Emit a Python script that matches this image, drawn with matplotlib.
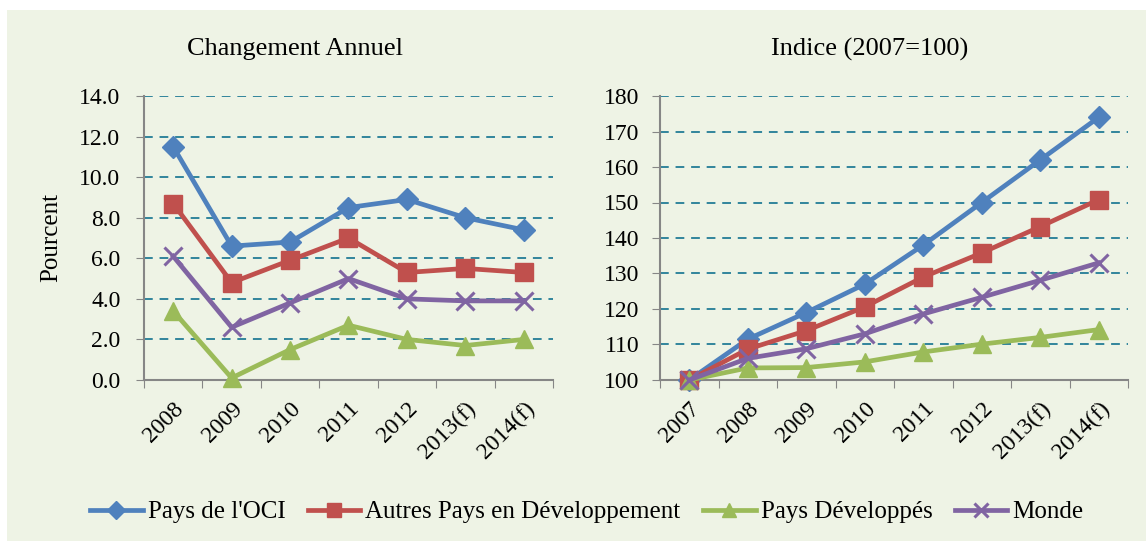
import numpy as np
import matplotlib.pyplot as plt
from matplotlib.patches import Rectangle

# données
annees_chg = ['2008', '2009', '2010', '2011', '2012', '2013(f)', '2014(f)']
oci_chg = [11.5, 6.6, 6.8, 8.5, 8.9, 8.0, 7.4]
autres_chg = [8.7, 4.8, 5.9, 7.0, 5.3, 5.5, 5.3]
dev_chg = [3.4, 0.1, 1.5, 2.7, 2.0, 1.7, 2.0]
monde_chg = [6.1, 2.6, 3.8, 5.0, 4.0, 3.9, 3.9]

annees_idx = ['2007', '2008', '2009', '2010', '2011', '2012', '2013(f)', '2014(f)']
oci_idx = [100, 111.5, 119, 127, 138, 150, 162, 174]
autres_idx = [100, 108.7, 113.9, 120.6, 129, 135.8, 143.2, 150.8]
dev_idx = [100, 103.4, 103.5, 105.1, 107.9, 110.1, 112, 114.2]
monde_idx = [100, 106.1, 108.8, 113, 118.6, 123.3, 128.1, 133]

noms = ["Pays de l'OCI", 'Autres Pays en Développement', 'Pays Développés', 'Monde']
couleurs = ['#4F81BD', '#C0504D', '#9BBB59', '#8064A2']
marqueurs = ['D', 's', '^', 'x']
tailles = [11, 12.5, 12.5, 12.5]

plt.rcParams['font.family'] = ['Liberation Serif', 'DejaVu Serif']

fig = plt.figure(figsize=(11.46, 5.41), dpi=100, facecolor='white')
fig.patches.append(Rectangle((7 / 1146, 0), 1, 1 - 10 / 541, transform=fig.transFigure,
                             facecolor='#EEF3E5', edgecolor='none', zorder=-10))

ax1 = fig.add_axes([144 / 1146, 1 - 380 / 541, (553 - 144) / 1146, 284 / 541])
ax2 = fig.add_axes([660 / 1146, 1 - 380 / 541, (1128 - 660) / 1146, 284 / 541])


def dessine(ax, cats, series, ylim, yticks, fmt, pad_y):
    n = len(cats)
    x = np.arange(n)
    lignes = []
    for vals, c, m, s, nom in zip(series, couleurs, marqueurs, tailles, noms):
        l, = ax.plot(x, vals, color=c, lw=3.4, marker=m, markersize=s,
                     markeredgewidth=2.2 if m == 'x' else 1, markeredgecolor=c,
                     label=nom, clip_on=False, zorder=3)
        lignes.append(l)
    ax.set_facecolor('none')
    ax.set_xlim(-0.5, n - 0.5)
    ax.set_ylim(*ylim)
    ax.set_yticks(yticks)
    ax.set_yticklabels([fmt.format(v) for v in yticks], fontsize=17)
    ax.set_xticks(np.arange(n + 1) - 0.5)
    ax.set_xticklabels([])
    ax.set_xticks(x, minor=True)
    ax.set_xticklabels(cats, minor=True, rotation=45, ha='right', va='top',
                       rotation_mode='anchor', fontsize=17)
    ax.tick_params(axis='x', which='major', length=6, color='#868686', direction='out')
    ax.tick_params(axis='x', which='minor', length=0, pad=13)
    ax.tick_params(axis='y', length=6, color='#868686', direction='out', pad=pad_y)
    for sp in ['top', 'right']:
        ax.spines[sp].set_visible(False)
    for sp in ['left', 'bottom']:
        ax.spines[sp].set_color('#868686')
        ax.spines[sp].set_linewidth(1.5)
    for v in yticks[1:]:
        ax.axhline(v, color='#31859C', lw=1.4, ls=(0, (4.5, 3.5)), zorder=1)
    return lignes


lignes = dessine(ax1, annees_chg, [oci_chg, autres_chg, dev_chg, monde_chg],
                 (0, 14), np.arange(0, 14.1, 2), '{:.1f}', 11)
ax1.set_ylabel('Pourcent', fontsize=18, labelpad=12)
dessine(ax2, annees_idx, [oci_idx, autres_idx, dev_idx, monde_idx],
        (100, 180), np.arange(100, 181, 10), '{:.0f}', 9)

fig.text(295 / 1146, 1 - 49 / 541, 'Changement Annuel', fontsize=19, ha='center', va='center')
fig.text(870 / 1146, 1 - 49 / 541, 'Indice (2007=100)', fontsize=19, ha='center', va='center')

fig.legend(handles=lignes, loc='center', bbox_to_anchor=(0.512, 1 - 512 / 541),
           ncol=4, frameon=False, fontsize=18, handlelength=2.1, handletextpad=0.2,
           columnspacing=0.9, markerscale=0.85)

fig.savefig('out.png', dpi=100, facecolor=fig.get_facecolor())
